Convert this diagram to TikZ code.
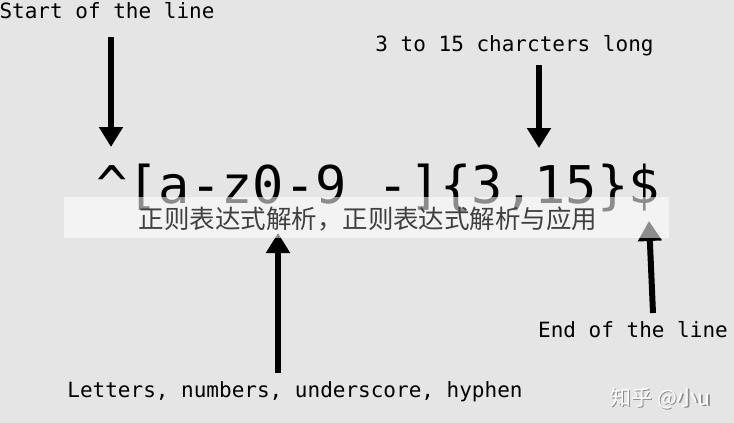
\documentclass[tikz,border=0pt]{standalone}
\usepackage{fontspec}
\setmonofont{DejaVu Sans Mono}
\newfontfamily\cjk{Noto Sans CJK SC}
\usetikzlibrary{arrows.meta}
\definecolor{bg}{HTML}{E5E5E5}
\definecolor{cjkgray}{HTML}{404040}
\tikzset{
  label/.style={inner sep=0pt, anchor=base, font=\ttfamily\fontsize{21}{25}\selectfont, text=black},
  regex/.style={inner sep=0pt, anchor=base, font=\ttfamily\fontsize{52}{60}\selectfont, text=black},
  bigarrow/.style={line width=6pt, -{Triangle[width=23pt,length=20pt]}, black},
}
\begin{document}
\begin{tikzpicture}[x=1pt,y=-1pt]
\useasboundingbox (0,0) rectangle (734,423);
\fill[bg] (0,0) rectangle (734,423);

\node[label] (start) at (107,18.5) {Start of the line};
\node[label] (len) at (514.5,51.5) {3 to 15 charcters long};
\node[label] (end) at (633,337) {End of the line};
\node[label] (letters) at (295,397) {Letters, numbers, underscore, hyphen};
\node[regex] (re) at (378,203) {\^{}[a-z0-9 -]\{3,15\}\$};

\coordinate (a1s) at (111,37);  \coordinate (a1e) at (111,147);
\coordinate (a2s) at (539,65);  \coordinate (a2e) at (539,148);
\coordinate (a3s) at (278,373); \coordinate (a3e) at (278,233);
\coordinate (a4s) at (653,313); \coordinate (a4e) at (649,221);
\draw[bigarrow] (a1s) -- (a1e);
\draw[bigarrow] (a2s) -- (a2e);
\draw[bigarrow] (a3s) -- (a3e);
\draw[bigarrow] (a4s) -- (a4e);

\fill[white, opacity=0.55] (64,197) rectangle (669,238);
\node[inner sep=0pt, font=\cjk\fontsize{25.5}{28}\selectfont, text=cjkgray] (title) at (368,219) {正则表达式解析，正则表达式解析与应用};

\node[inner sep=0pt, font=\cjk\fontsize{21}{24}\selectfont, text=black!45] (wmshadow) at (661.7,399.2) {知乎 @小u};
\node[inner sep=0pt, font=\cjk\fontsize{21}{24}\selectfont, text=white] (wm) at (660.5,398) {知乎 @小u};
\end{tikzpicture}
\end{document}
